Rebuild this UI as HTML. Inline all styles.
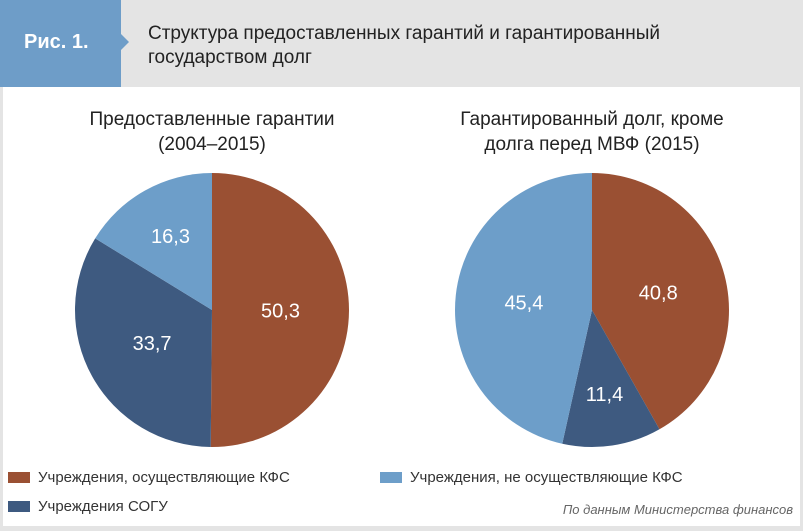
<!DOCTYPE html>
<html><head><meta charset="utf-8"><style>
body{margin:0;width:803px;height:531px;overflow:hidden;background:#fff;font-family:"Liberation Sans","DejaVu Sans",sans-serif}
#frame{position:absolute;left:0;top:0;width:803px;height:531px;box-sizing:border-box;border-left:3px solid #e4e4e4;border-right:3px solid #e4e4e4;border-bottom:5px solid #e4e4e4}
#hdr{position:absolute;left:0;top:0;width:803px;height:87px;background:#e4e4e4}
#tab{position:absolute;left:0;top:0;width:121px;height:87px;background:#6e9dc8}
#tab:after{content:"";position:absolute;right:-8px;top:34px;border-left:8px solid #6e9dc8;border-top:8px solid transparent;border-bottom:8px solid transparent}
#tabtxt{position:absolute;left:24px;top:31px;color:#fff;font-weight:bold;font-size:20px}
#title{position:absolute;left:148px;top:22px;font-size:19px;line-height:24px;color:#222}
.ct{position:absolute;text-align:center;font-size:19px;line-height:25px;color:#222;width:360px}
.lg{position:absolute;font-size:15px;color:#333}
.sw{display:inline-block;width:22px;height:11px;margin-right:8px;vertical-align:-1px}
</style></head><body>
<div id="frame"></div>
<div id="hdr"></div>
<div id="tab"><div id="tabtxt">Рис. 1.</div></div>
<div id="title">Структура предоставленных гарантий и гарантированный<br>государством долг</div>
<div class="ct" style="left:32px;top:107px">Предоставленные гарантии<br>(2004–2015)</div>
<div class="ct" style="left:412px;top:107px">Гарантированный долг, кроме<br>долга перед МВФ (2015)</div>
<svg id="svg" width="803" height="531" style="position:absolute;left:0;top:0"></svg>
<div class="lg" style="left:8px;top:469px"><span class="sw" style="background:#9a5033"></span>Учреждения, осуществляющие КФС</div>
<div class="lg" style="left:246px;top:469px;left:246px" ></div>
<div class="lg" style="left:380px;top:469px"><span class="sw" style="background:#6d9ec9"></span>Учреждения, не осуществляющие КФС</div>
<div class="lg" style="left:8px;top:498px"><span class="sw" style="background:#3e5a80"></span>Учреждения СОГУ</div>
<div class="lg" style="right:10px;top:502px;font-style:italic;font-size:13px;color:#666">По данным Министерства финансов</div>
<script>
const colors=["#9a5033","#3e5a80","#6d9ec9"];
const leftValues=[50.3,33.7,16.3];
const rightValues=[40.8,11.4,45.4];
const labelsLeft=["50,3","33,7","16,3"];
const labelsRight=["40,8","11,4","45,4"];
const svg=document.getElementById('svg');
const NS="http://www.w3.org/2000/svg";
function pie(cx,cy,r,vals,labels,name){
  const tot=vals.reduce((a,b)=>a+b,0);let a0=0;
  vals.forEach((v,i)=>{
    const a1=a0+v/tot*2*Math.PI;
    const p=(a)=>[cx+r*Math.sin(a),cy-r*Math.cos(a)];
    const [x0,y0]=p(a0),[x1,y1]=p(a1);
    const path=document.createElementNS(NS,'path');
    path.setAttribute('d',`M${cx},${cy}L${x0},${y0}A${r},${r} 0 ${a1-a0>Math.PI?1:0} 1 ${x1},${y1}Z`);
    path.setAttribute('fill',colors[i]);
    
    
    svg.appendChild(path);
    const am=(a0+a1)/2,lr=r*(v/tot<0.2?0.62:0.5);
    const t=document.createElementNS(NS,'text');
    t.setAttribute('x',cx+lr*Math.sin(am));t.setAttribute('y',cy-lr*Math.cos(am)+7);
    t.setAttribute('text-anchor','middle');t.setAttribute('fill','#fff');
    t.setAttribute('font-size','20');t.setAttribute('font-family','Liberation Sans, sans-serif');
    t.textContent=labels[i];
    
    
    svg.appendChild(t);
    a0=a1;
  });
}
pie(212,310,137,leftValues,labelsLeft,'left-pie');
pie(592,310,137,rightValues,labelsRight,'right-pie');
</script>
</body></html>
